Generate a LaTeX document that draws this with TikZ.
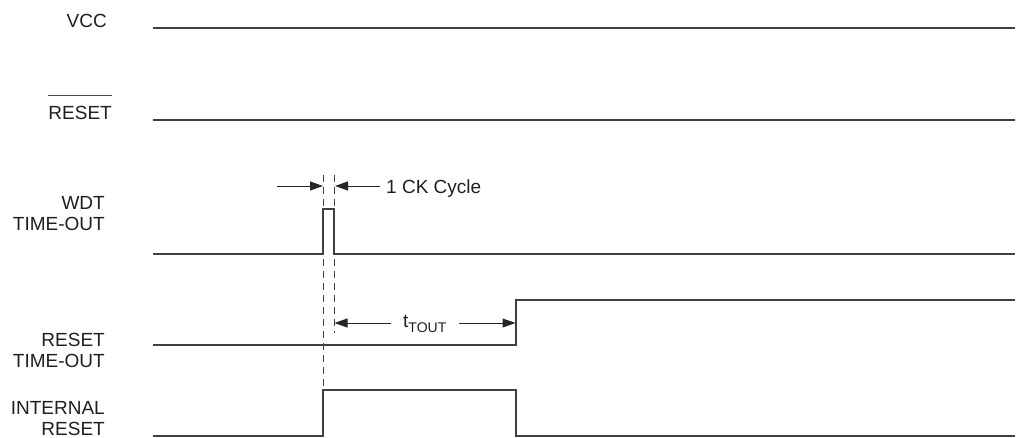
\documentclass[tikz,border=0pt]{standalone}
\usepackage{fontspec}
\setmainfont{Liberation Sans}
\usetikzlibrary{arrows.meta}
\begin{document}
\begin{tikzpicture}[x=1pt,y=-1pt,
  wave/.style={draw=black!75, line width=1.3pt, line join=miter},
  lbl/.style={inner sep=0pt, anchor=base east, text=black!88, font=\fontsize{19}{21}\selectfont},
  guide/.style={draw=black!75, line width=1pt, dash pattern=on 7pt off 5pt},
  dim/.style={draw=black!85, line width=1pt, -{Triangle[length=13pt,width=9pt]}},
]
\useasboundingbox (0,0) rectangle (1022,437);
% labels
\node[lbl] (vcc) at (107,27) {VCC};
\node[lbl] (rst) at (112,119) {RESET};
\draw[line width=1.3pt, black!70] ([yshift=10pt]rst.north west) -- ([yshift=10pt]rst.north east);
\node[lbl] (wdt1) at (105,209) {WDT};
\node[lbl] (wdt2) at (105,230) {TIME-OUT};
\node[lbl] (rto1) at (105,346) {RESET};
\node[lbl] (rto2) at (105,367) {TIME-OUT};
\node[lbl] (ir1) at (105,414) {INTERNAL};
\node[lbl] (ir2) at (105,435) {RESET};
% key coordinates
\coordinate (a0) at (323,175);
\coordinate (a1) at (334,175);
\coordinate (g0) at (323,390);
\coordinate (g1) at (334,333);
% waveforms
\draw[wave] (153,28) -- (1015,28);
\draw[wave] (153,120) -- (1015,120);
\draw[wave] (153,254) -- (323,254) -- (323,209) -- (334,209) -- (334,254) -- (1015,254);
\draw[wave] (153,345) -- (516,345) -- (516,300) -- (1015,300);
\draw[wave] (153,436) -- (323,436) -- (323,390) -- (516,390) -- (516,436) -- (1015,436);
% guides
\draw[guide] (a0) -- (g0);
\draw[guide] (a1) -- (g1);
% 1 CK cycle
\coordinate (c0) at (277,186);
\coordinate (c1) at (380,186);
\draw[dim] (c0) -- (323,186);
\draw[dim] (c1) -- (335,186);
\node[lbl, anchor=base west] (ck) at (386,193) {1 CK Cycle};
% tTOUT
\coordinate (d0) at (391,323);
\coordinate (d1) at (459,323);
\draw[dim] (d0) -- (334.5,323);
\draw[dim] (d1) -- (515.5,323);
\node[lbl, anchor=base west] (tt) at (403,327) {t\raisebox{-5pt}{\fontsize{14}{14}\selectfont TOUT}};
\end{tikzpicture}
\end{document}
